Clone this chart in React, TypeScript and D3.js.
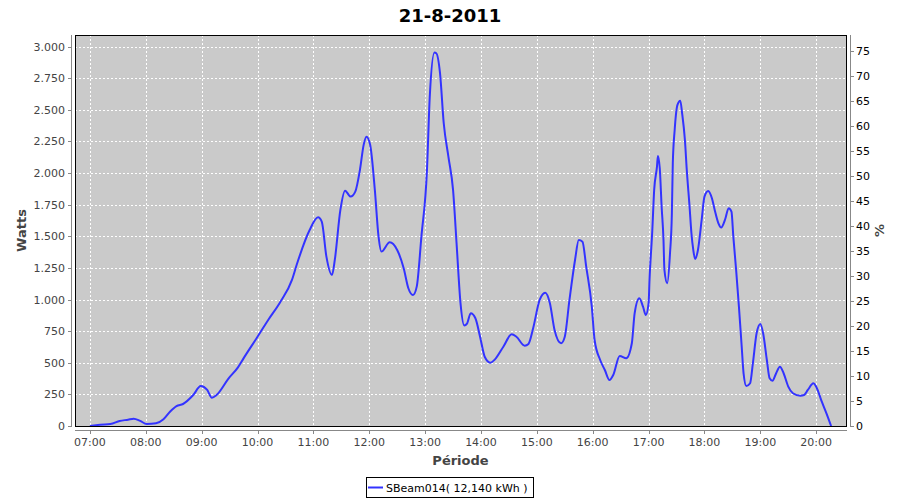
import React from "react";
import * as d3 from "d3";

// chart data
const title = "21-8-2011";
const seriesName = "SBeam014( 12,140 kWh )";
const times = [
  "07:00", "07:11", "07:22", "07:32", "07:41", "07:47", "07:54", "08:01", "08:11", "08:19",
  "08:26", "08:33", "08:40", "08:51", "08:59", "09:06", "09:11", "09:16", "09:29", "09:39",
  "09:45", "09:59", "10:12", "10:24", "10:37", "10:42", "10:56", "11:05", "11:09", "11:14",
  "11:20", "11:23", "11:29", "11:34", "11:40", "11:45", "11:50", "11:54", "11:57", "12:01",
  "12:06", "12:10", "12:13", "12:22", "12:30", "12:37", "12:42", "12:47", "12:51", "12:56",
  "13:02", "13:05", "13:10", "13:12", "13:16", "13:20", "13:25", "13:30", "13:34", "13:38",
  "13:42", "13:45", "13:49", "13:54", "13:59", "14:04", "14:10", "14:15", "14:24", "14:33",
  "14:38", "14:47", "14:51", "14:56", "15:03", "15:09", "15:14", "15:19", "15:26", "15:30",
  "15:35", "15:41", "15:45", "15:49", "15:53", "15:59", "16:02", "16:08", "16:13", "16:18",
  "16:22", "16:29", "16:36", "16:42", "16:45", "16:50", "16:54", "16:57", "17:00", "17:01",
  "17:04", "17:06", "17:09", "17:10", "17:12", "17:14", "17:16", "17:17", "17:20", "17:23",
  "17:25", "17:26", "17:28", "17:31", "17:34", "17:36", "17:39", "17:41", "17:44", "17:46",
  "17:48", "17:50", "17:53", "17:57", "18:00", "18:04", "18:08", "18:11", "18:15", "18:18",
  "18:22", "18:26", "18:29", "18:31", "18:34", "18:37", "18:40", "18:42", "18:45", "18:49",
  "18:52", "18:56", "19:00", "19:03", "19:07", "19:10", "19:13", "19:17", "19:21", "19:25",
  "19:30", "19:35", "19:43", "19:47", "19:51", "19:57", "20:00", "20:06", "20:11", "20:16",
];
const watts = [
  0, 10, 15, 40, 50, 58, 40, 16, 21, 53,
  113, 158, 174, 245, 316, 285, 224, 245, 377, 464,
  535, 694, 844, 975, 1155, 1273, 1550, 1650, 1616, 1339,
  1194, 1313, 1709, 1861, 1814, 1853, 2025, 2223, 2288, 2223,
  1867, 1497, 1379, 1453, 1392, 1247, 1089, 1036, 1102, 1497,
  2025, 2605, 2953, 2948, 2790, 2394, 2130, 1867, 1418, 971,
  795, 810, 891, 852, 706, 548, 501, 527, 627, 725,
  706, 635, 649, 773, 997, 1054, 971, 759, 654, 706,
  997, 1313, 1471, 1458, 1260, 944, 680, 522, 443, 364,
  403, 554, 535, 654, 891, 1010, 944, 878, 971, 1155,
  1550, 1867, 2051, 2136, 2038, 1735, 1471, 1234, 1129, 1366,
  1682, 2078, 2341, 2539, 2573, 2473, 2262, 2025, 1735, 1524,
  1392, 1321, 1392, 1630, 1814, 1859, 1801, 1709, 1603, 1569,
  1630, 1722, 1696, 1497, 1234, 944, 627, 417, 316, 338,
  496, 733, 807, 733, 522, 377, 358, 417, 469, 417,
  311, 259, 240, 245, 285, 338, 311, 192, 100, 0,
];
const hourTicks = [
  "07:00", "08:00", "09:00", "10:00", "11:00", "12:00", "13:00",
  "14:00", "15:00", "16:00", "17:00", "18:00", "19:00", "20:00",
];
const wattTicks = [0, 250, 500, 750, 1000, 1250, 1500, 1750, 2000, 2250, 2500, 2750, 3000];
const pctTicks = [0, 5, 10, 15, 20, 25, 30, 35, 40, 45, 50, 55, 60, 65, 70, 75];

const parseTime = d3.timeParse("%H:%M");
const fmtWatts = d3
  .formatLocale({ decimal: ",", thousands: ".", grouping: [3], currency: ["", ""] })
  .format(",d");

const App = () => {
  const left = 75;
  const right = 846;
  const top = 35;
  const bottom = 426;
  const font = "'DejaVu Sans', sans-serif";
  const textColor = "#444444";
  const axisColor = "#888888";

  const x = d3
    .scaleTime()
    .domain([parseTime("06:44") as Date, parseTime("20:32") as Date])
    .range([left, right]);
  const y = d3.scaleLinear().domain([0, 3092]).range([bottom, top]);
  const yPct = d3.scaleLinear().domain([0, 78.2]).range([bottom, top]);

  const data = times.map((t, i) => ({ t: parseTime(t) as Date, w: watts[i] }));
  const line = d3
    .line<{ t: Date; w: number }>()
    .x((d) => x(d.t))
    .y((d) => y(d.w))
    .curve(d3.curveMonotoneX);

  const px = (v: number) => Math.round(v) + 0.5;

  return (
    <svg
      width={900}
      height={500}
      style={{ position: "absolute", left: 0, top: 0, background: "#fff" }}
      fontFamily={font}
    >
      <text x={450} y={22} textAnchor="middle" fontSize={18} fontWeight="bold" fill="#000">
        {title}
      </text>

      {/* plot background */}
      <rect x={left} y={top} width={right - left} height={bottom - top} fill="#cacaca" />

      {/* grid */}
      {hourTicks.map((h) => (
        <line
          key={"gx" + h}
          x1={px(x(parseTime(h) as Date))}
          x2={px(x(parseTime(h) as Date))}
          y1={top}
          y2={bottom}
          stroke="#fff"
          strokeDasharray="2,2"
          shapeRendering="crispEdges"
        />
      ))}
      {wattTicks.map((w) => (
        <line
          key={"gy" + w}
          x1={left}
          x2={right}
          y1={px(y(w))}
          y2={px(y(w))}
          stroke="#fff"
          strokeDasharray="2,2"
          shapeRendering="crispEdges"
        />
      ))}

      <clipPath id="plotClip">
        <rect x={left} y={top} width={right - left} height={bottom - top} />
      </clipPath>
      <path
        d={line(data) as string}
        fill="none"
        stroke="#3333ff"
        strokeWidth={2}
        clipPath="url(#plotClip)"
      />

      <rect
        x={left + 0.5}
        y={top + 0.5}
        width={right - left}
        height={bottom - top}
        fill="none"
        stroke="#000"
        shapeRendering="crispEdges"
      />

      {/* left axis */}
      <line x1={71.5} x2={71.5} y1={top} y2={bottom + 1} stroke={axisColor} shapeRendering="crispEdges" />
      {wattTicks.map((w) => (
        <g key={"ly" + w}>
          <line x1={68} x2={71} y1={px(y(w))} y2={px(y(w))} stroke={axisColor} shapeRendering="crispEdges" />
          <text x={65} y={y(w) + 4} textAnchor="end" fontSize={11} fill={textColor}>
            {fmtWatts(w)}
          </text>
        </g>
      ))}
      <text
        transform={`translate(26, ${(top + bottom) / 2}) rotate(-90)`}
        textAnchor="middle"
        fontSize={13}
        fontWeight="bold"
        fill={textColor}
      >
        Watts
      </text>

      {/* right axis */}
      <line x1={850.5} x2={850.5} y1={top} y2={bottom + 1} stroke={axisColor} shapeRendering="crispEdges" />
      {pctTicks.map((p) => (
        <g key={"ry" + p}>
          <line x1={851} x2={854} y1={px(yPct(p))} y2={px(yPct(p))} stroke={axisColor} shapeRendering="crispEdges" />
          <text x={856} y={yPct(p) + 4} textAnchor="start" fontSize={11} fill="#000">
            {p}
          </text>
        </g>
      ))}
      <text
        transform={`translate(884, ${(top + bottom) / 2}) rotate(-90)`}
        textAnchor="middle"
        fontSize={13}
        fontWeight="bold"
        fill={textColor}
      >
        %
      </text>

      {/* bottom axis */}
      <line x1={left} x2={right + 1} y1={430.5} y2={430.5} stroke={axisColor} shapeRendering="crispEdges" />
      {hourTicks.map((h) => {
        const xx = x(parseTime(h) as Date);
        return (
          <g key={"bx" + h}>
            <line x1={px(xx)} x2={px(xx)} y1={431} y2={434} stroke={axisColor} shapeRendering="crispEdges" />
            <text x={xx} y={446} textAnchor="middle" fontSize={11} fill={textColor}>
              {h}
            </text>
          </g>
        );
      })}
      <text x={(left + right) / 2} y={465} textAnchor="middle" fontSize={13} fontWeight="bold" fill={textColor}>
        Période
      </text>

      {/* legend */}
      <rect x={366.5} y={477.5} width={167} height={20} fill="#fff" stroke="#000" shapeRendering="crispEdges" />
      <line x1={368} x2={383} y1={487.5} y2={487.5} stroke="#3333ff" strokeWidth={2} />
      <text x={386} y={492} fontSize={11} fill="#000">
        {seriesName}
      </text>
    </svg>
  );
};

export default App;
